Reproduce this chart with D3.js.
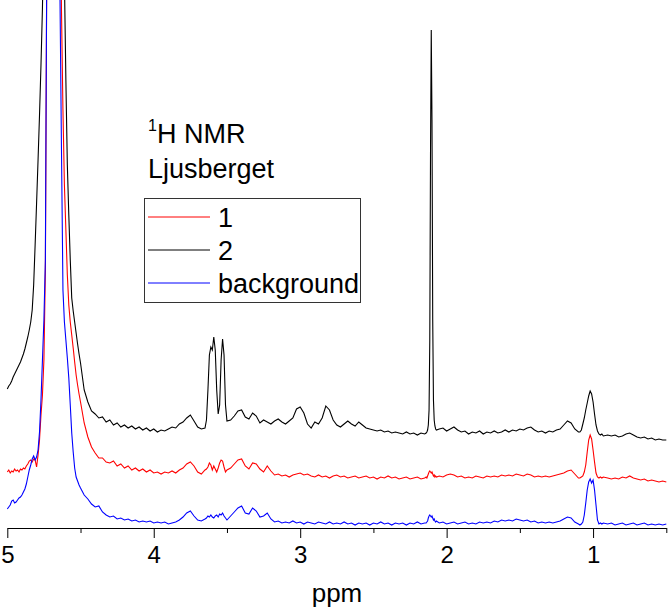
<!DOCTYPE html>
<html>
<head>
<meta charset="utf-8">
<script src="https://cdn.jsdelivr.net/npm/d3@7"></script>
<style>
body { margin: 0; background: #fff; }
svg text { font-family: "Liberation Sans", Arial, sans-serif; }
</style>
</head>
<body>
<div id="chart"></div>
<script>
// sampling of the chemical shift axis: [start, stop, step] in ppm
var ppmSegments = [
    [5.00, 4.50, 0.01],
    [4.475, 3.65, 0.025],
    [3.64, 3.50, 0.01],
    [3.475, 2.15, 0.025],
    [2.14, 2.07, 0.005],
    [2.05, 1.10, 0.025],
    [1.09, 0.93, 0.01],
    [0.90, 0.50, 0.025]
];

// intensities (arbitrary units), one value per ppm sample
var sample2 = [
    139,142,144,147,151,154,157,160,163,166, 170,174,179,185,191,198,206,218,243,283,
    325,368,413,463,520,608,728,878,1028,1178, 1278,1328,1328,1278,1178,1048,928,778,648,548,
    448,363,313,268,230,217,206,195,184,174, 165,
    138,126,117,114,110,111,106,108,103,105, 101,103,100,102,99,101,98,100,97,99,
    96,98,97,99,101,100,104,106,110,113, 107,101,99,100,
    108,138,173,181,178,191,178,138,114,123,168,189,173,123,107,
    108,112,117,118,111,109,115,112,105,108, 106,104,107,109,106,104,107,110,119,121,
    115,104,100,106,104,110,122,118,108,103, 101,104,107,104,102,106,103,100,99,98,
    97,98,96,97,95,96,95,94,96,94, 95,93,95,94,
    95,96,98,103,118,188,378,498,408,208,128,108,102,99,98,
    99,100,97,99,101,98,96,97,94,96, 95,97,94,96,95,97,95,96,98,96,
    98,97,99,98,100,101,98,96,97,95, 97,96,98,99,103,107,105,99,96,
    96,98,104,110,118,125,132,137,134,126,114,103,97,94,93,94,92,
    93,92,93,91,92,94,95,93,91,90,91,89,90,88,89,88,88
];

var sample1 = [
    56,58,55,57,56,59,57,58,56,59, 58,60,59,62,64,67,68,66,69,68,
    61,73,88,113,133,168,258,578,928,1328, 1628,1728,1728,1628,1328,928,678,518,418,343,
    298,253,223,206,193,180,166,153,143,134, 126,
    105,91,81,75,70,70,66,65,67,62, 64,60,62,58,60,57,59,56,58,55,
    56,54,56,55,57,55,58,60,64,66, 62,56,54,58,
    59,61,65,63,58,62,59,56,60,65,68,67,61,56,58,
    60,64,68,69,62,59,65,64,59,56, 62,57,53,54,52,53,51,53,54,55,
    53,54,52,51,53,51,52,50,52,53, 51,52,50,51,52,50,51,52,50,51,
    49,51,50,52,50,51,49,50,51,49, 50,51,49,50,
    51,50,52,54,56,57,56,55,56,54,52,53,51,52,51,
    52,51,53,54,53,51,52,50,51,50, 52,51,50,52,51,52,51,53,52,53,
    52,54,53,52,54,53,51,52,51,52, 51,52,53,54,55,57,58,54,50,
    50,51,52,56,63,76,88,93,89,78,66,55,51,50,51,50,51,
    50,49,50,49,51,50,52,50,49,48,49,47,48,47,46,47,46
];

var background = [
    19,21,23,27,28,25,26,28,30,31, 33,36,39,44,51,58,63,69,72,68,
    71,78,96,128,168,208,268,578,1028,1428, 1528,1578,1578,1528,1428,1028,528,378,238,206,
    188,170,150,123,95,76,60,51,47,43, 40,
    33,29,24,21,22,16,13,11,12,9, 10,8,9,7,8,6,7,6,7,5,
    6,5,6,4,5,6,8,11,15,17, 12,8,7,9,
    10,12,11,13,11,10,12,13,11,14,13,15,12,10,8,
    12,16,20,22,15,14,20,17,11,12, 15,9,6,7,5,6,5,7,5,6,
    4,6,5,4,6,5,4,6,4,5, 4,6,4,5,3,5,4,5,3,5,
    4,6,4,5,3,5,4,5,3,5, 4,6,4,5,
    5,6,7,10,12,13,12,11,12,10,8,9,7,6,7,
    5,6,4,5,6,4,5,6,4,5, 4,6,5,6,5,7,6,8,7,8,
    7,9,8,7,8,6,7,5,6,5, 6,5,6,7,9,11,10,6,4,
    3,4,6,13,25,38,46,49,45,48,38,23,8,4,5,4,5,
    4,5,3,4,5,3,4,5,3,4,5,3,4,3,4,3,4
];

var majorTicks = [5, 4, 3, 2, 1];
var minorTicks = [4.5, 3.5, 2.5, 1.5, 0.5];
var seriesNames = ["1", "2", "background"];
var seriesColors = ["#ff0000", "#000000", "#0000ff"];

var ppm = [];
ppmSegments.forEach(function(s) {
    var n = Math.round((s[0] - s[1]) / s[2]) + 1;
    for (var i = 0; i < n; i++) ppm.push(+(s[0] - i * s[2]).toFixed(3));
});

var width = 669, height = 611;

var svg = d3.select("#chart").append("svg")
    .attr("width", width)
    .attr("height", height);

var xScale = d3.scaleLinear()
    .domain([5, 0.5])
    .range([7.3, 666.3]);

var yScale = d3.scaleLinear()
    .domain([0, 528])
    .range([528, 0]);

var line = d3.line()
    .x(function(d, i) { return xScale(ppm[i]); })
    .y(function(d) { return yScale(d); });

var data = [sample1, sample2, background];
[1, 0, 2].forEach(function(k) {
    svg.append("path")
        .datum(data[k])
        .style("fill", "none")
        .attr("stroke", seriesColors[k])
        .attr("stroke-width", 1.1)
        .attr("d", line);
});

// axis
var gx = svg.append("g")
    .attr("transform", "translate(0,528)")
    .call(d3.axisBottom(xScale)
        .tickValues(majorTicks)
        .tickFormat(d3.format("d"))
        .tickSize(10)
        .tickSizeOuter(0)
        .tickPadding(8));
gx.attr("font-family", null).attr("font-size", 24);
gx.selectAll("text").attr("fill", "#000");
gx.selectAll("line, path").attr("stroke", "#000");

var gm = svg.append("g")
    .attr("transform", "translate(0,528)")
    .call(d3.axisBottom(xScale)
        .tickValues(minorTicks)
        .tickFormat("")
        .tickSize(5));
gm.select(".domain").remove();
gm.selectAll("line").attr("stroke", "#000");

svg.append("text")
    .attr("x", 337)
    .attr("y", 602)
    .attr("text-anchor", "middle")
    .attr("font-size", 26)
    .text("ppm");

// title
var title = svg.append("text")
    .attr("x", 148)
    .attr("y", 143)
    .attr("font-size", 27);
title.append("tspan").attr("font-size", 16).attr("dy", -12).text("1");
title.append("tspan").attr("dy", 12).text("H NMR");

svg.append("text")
    .attr("x", 148)
    .attr("y", 178)
    .attr("font-size", 27)
    .text("Ljusberget");

// legend
svg.append("rect")
    .attr("x", 144.5)
    .attr("y", 198.5)
    .attr("width", 216)
    .attr("height", 104)
    .attr("fill", "none")
    .attr("stroke", "#333")
    .attr("stroke-width", 1);

seriesNames.forEach(function(name, i) {
    var y = 217 + i * 33;
    svg.append("line")
        .attr("x1", 148).attr("x2", 210)
        .attr("y1", y).attr("y2", y)
        .attr("stroke", seriesColors[i])
        .attr("stroke-width", 1);
    svg.append("text")
        .attr("x", 218)
        .attr("y", y + 10)
        .attr("font-size", 27)
        .text(name);
});
</script>
</body>
</html>
